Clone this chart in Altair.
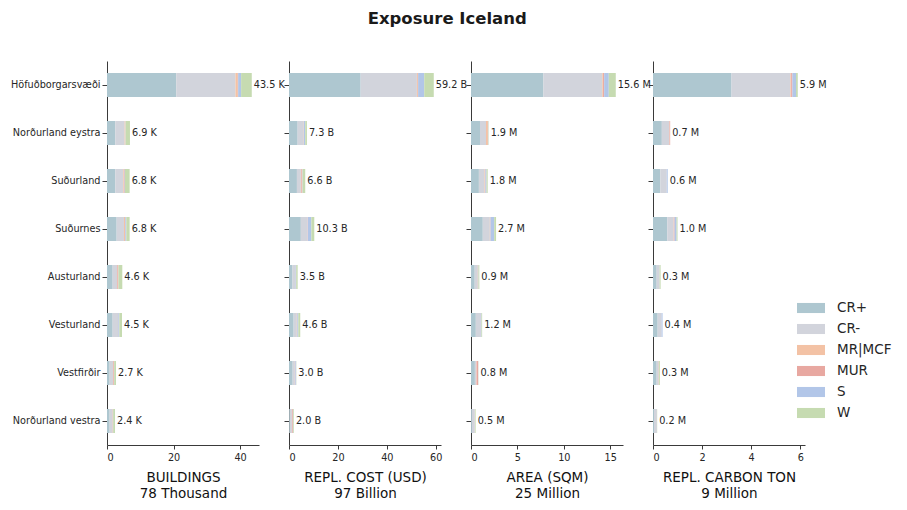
import altair as alt
import pandas as pd

regions = [
    "Höfuðborgarsvæði", "Norðurland eystra", "Suðurland", "Suðurnes",
    "Austurland", "Vesturland", "Vestfirðir", "Norðurland vestra",
]
categories = ["CR+", "CR-", "MR|MCF", "MUR", "S", "W"]
colors = ["#aec7d0", "#d2d4dc", "#f3c2a5", "#e8a8a1", "#b2c6e8", "#c6dbb1"]

# Buildings, thousands
buildings = {
    "CR+":    [20.8, 2.5, 2.5, 2.9, 1.7, 1.7, 0.8, 0.8],
    "CR-":    [17.8, 2.8, 2.4, 2.2, 1.3, 1.6, 1.0, 0.9],
    "MR|MCF": [0.7, 0.2, 0.2, 0.3, 0.1, 0.05, 0.1, 0.05],
    "MUR":    [0.1, 0.05, 0.2, 0.1, 0.3, 0.05, 0.2, 0.05],
    "S":      [0.9, 0.05, 0.1, 0.3, 0.05, 0.3, 0.05, 0.05],
    "W":      [3.2, 1.3, 1.4, 1.0, 1.15, 0.8, 0.55, 0.55],
}
# Replacement cost, billion USD
repl_cost = {
    "CR+":    [29.3, 3.54, 3.24, 4.84, 1.44, 1.9, 1.5, 0.3],
    "CR-":    [23.0, 2.5, 1.6, 2.6, 1.1, 1.3, 0.9, 0.9],
    "MR|MCF": [0.4, 0.05, 0.2, 0.1, 0.05, 0.1, 0.1, 0.1],
    "MUR":    [0.1, 0.05, 0.4, 0.1, 0.05, 0.1, 0.1, 0.3],
    "S":      [2.5, 0.5, 0.1, 1.5, 0.3, 0.4, 0.3, 0.1],
    "W":      [3.9, 0.7, 1.1, 1.2, 0.6, 0.8, 0.1, 0.3],
}
# Floor area, million square metres
area = {
    "CR+":    [7.8, 0.97, 0.85, 1.27, 0.4, 0.52, 0.42, 0.1],
    "CR-":    [6.35, 0.65, 0.6, 0.76, 0.33, 0.46, 0.15, 0.28],
    "MR|MCF": [0.08, 0.2, 0.05, 0.04, 0.02, 0.02, 0.03, 0.01],
    "MUR":    [0.12, 0.02, 0.05, 0.03, 0.02, 0.02, 0.17, 0.01],
    "S":      [0.5, 0.02, 0.12, 0.4, 0.03, 0.1, 0.01, 0.02],
    "W":      [0.75, 0.04, 0.13, 0.2, 0.1, 0.08, 0.02, 0.08],
}
# Replacement carbon, million tonnes
carbon = {
    "CR+":    [3.2, 0.36, 0.3, 0.58, 0.15, 0.19, 0.15, 0.04],
    "CR-":    [2.4, 0.3, 0.26, 0.26, 0.12, 0.16, 0.08, 0.12],
    "MR|MCF": [0.03, 0.01, 0.0, 0.01, 0.0, 0.0, 0.0, 0.0],
    "MUR":    [0.05, 0.03, 0.0, 0.03, 0.0, 0.0, 0.01, 0.0],
    "S":      [0.15, 0.0, 0.04, 0.08, 0.0, 0.04, 0.0, 0.0],
    "W":      [0.07, 0.0, 0.0, 0.04, 0.04, 0.0, 0.04, 0.01],
}

panels = [
    ("BUILDINGS", buildings, "K", "Thousand", [0, 10, 20, 30, 40]),
    ("REPL. COST (USD)", repl_cost, "B", "Billion", [0, 20, 40, 60]),
    ("AREA (SQM)", area, "M", "Million", [0, 5, 10, 15]),
    ("REPL. CARBON TON", carbon, "M", "Million", [0, 2, 4, 6]),
]

FONT = "DejaVu Sans"
TXT = "#262626"
AX = "#3a3a3a"


def panel(title, data, suffix, unit, ticks, first):
    rows = []
    for ci, cat in enumerate(categories):
        for ri, reg in enumerate(regions):
            rows.append({"region": reg, "category": cat, "order": ci,
                         "value": data[cat][ri]})
    df = pd.DataFrame(rows)
    totals = df.groupby("region", sort=False)["value"].sum().reset_index()
    totals["label"] = totals["value"].map(lambda v: f"{v:.1f} {suffix}")
    grand = totals["value"].sum()
    xmax = totals["value"].max() * 1.05

    y = alt.Y(
        "region:N", sort=regions, title=None,
        scale=alt.Scale(paddingInner=0.5, paddingOuter=0.25),
        axis=alt.Axis(labels=first, ticks=True, tickSize=5, domain=True,
                      labelFontSize=9.7, labelColor=TXT, labelFont=FONT,
                      labelPadding=2, domainColor=AX, tickColor=AX),
    )
    x = alt.X(
        "value:Q", stack="zero",
        scale=alt.Scale(domain=[0, xmax], nice=False, zero=True),
        axis=alt.Axis(values=ticks, grid=False, tickSize=4, labelFontSize=9.7,
                      labelColor=TXT, labelFont=FONT, domainColor=AX,
                      tickColor=AX, labelPadding=3,
                      title=[title, f"{grand:.0f} {unit}"], titleFontSize=13.5,
                      titleFontWeight="normal", titleColor="#111111",
                      titleFont=FONT, titlePadding=9, titleLineHeight=15.5),
    )
    bars = alt.Chart(df).mark_bar(opacity=1, strokeWidth=0).encode(
        x=x, y=y,
        color=alt.Color("category:N", sort=categories,
                        scale=alt.Scale(domain=categories, range=colors),
                        legend=alt.Legend(title=None)),
        order=alt.Order("order:Q"),
    )
    labels = alt.Chart(totals).mark_text(
        align="left", baseline="middle", dx=2, fontSize=9.7, font=FONT,
        color=TXT,
    ).encode(
        x=alt.X("value:Q"),
        y=alt.Y("region:N", sort=regions),
        text="label:N",
    )
    return alt.layer(bars, labels).properties(width=152, height=384)


charts = [panel(*p, first=(i == 0)) for i, p in enumerate(panels)]

chart = alt.hconcat(*charts, spacing=30, bounds="flush").properties(
    title=alt.Title("Exposure Iceland", fontSize=16.5, font=FONT,
                    fontWeight="bold", color="#1a1a1a", anchor="middle",
                    offset=34, dx=-4),
    padding={"left": 10, "top": 10, "right": 5, "bottom": 5},
).configure(background="white").configure_view(stroke=None).configure_legend(
    orient="none", legendX=690, legendY=233,
    symbolType="M-1,-0.36H1V0.36H-1Z", symbolSize=784, symbolStrokeWidth=0,
    symbolOpacity=1, labelFontSize=13.5, labelFont=FONT, labelColor=TXT,
    labelOffset=12, rowPadding=-7,
)

chart.save("out.html", embed_options={"renderer": "svg", "actions": False})
